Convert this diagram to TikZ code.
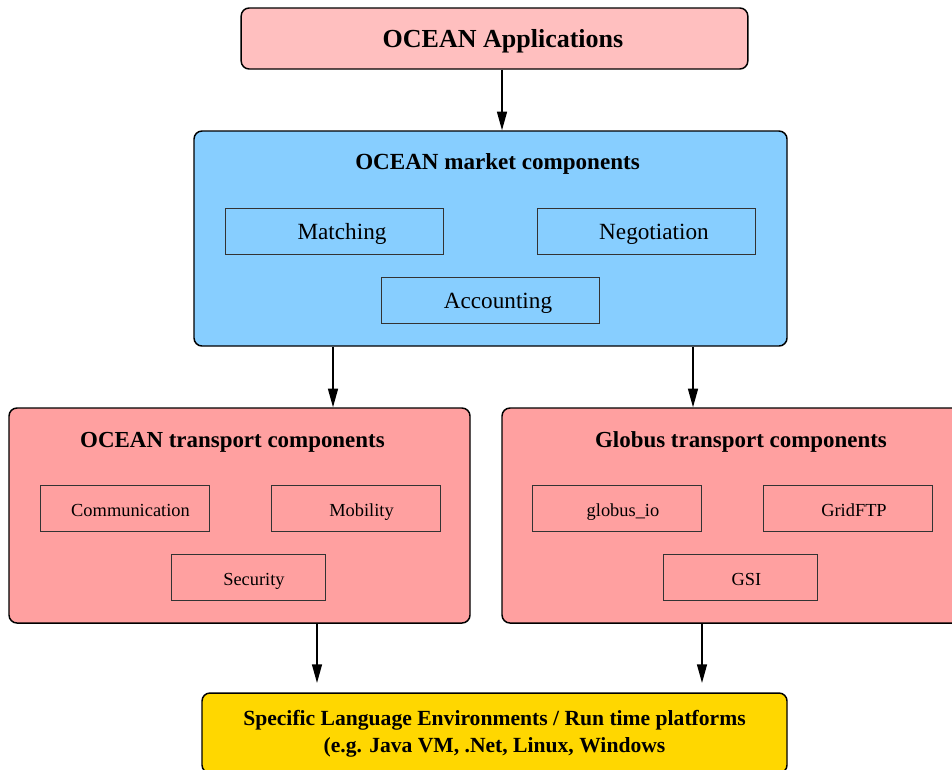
\documentclass[tikz,border=0pt]{standalone}
\usepackage{fontspec}
\setmainfont{Liberation Serif}
\usetikzlibrary{arrows.meta}

\definecolor{apppink}{RGB}{255,191,191}
\definecolor{marketblue}{RGB}{135,206,255}
\definecolor{transpink}{RGB}{255,160,160}
\definecolor{envgold}{RGB}{255,215,0}

\tikzset{
	layer/.style={draw, rounded corners=6pt, line width=1.1pt},
	part/.style={draw=black!80, line width=0.7pt, minimum height=34.5pt, inner sep=0pt, text height=12.6pt, text depth=0pt},
	flow/.style={-{Triangle[length=14pt, width=7.5pt]}, line width=1.1pt}
}

\begin{document}
\begin{tikzpicture}[x=0.75pt, y=-0.75pt]
		\clip (0, 0) rectangle (952, 769);
		\fill [white]	(0, 0) rectangle (952, 769);

		\node [layer, fill=apppink, minimum width=380pt, minimum height=45.75pt]	(apps) at (494.5, 38.5) {};
		\node [font=\fontsize{19.5}{22}\selectfont\bfseries]	(appstitle) at (503, 41) {OCEAN Applications};

		\node [layer, fill=marketblue, minimum width=444.75pt, minimum height=161.25pt]	(market) at (490.5, 238.5) {};
		\node [font=\fontsize{17.3}{20}\selectfont\bfseries]	(markettitle) at (497.5, 164) {OCEAN market components};
		\node [part, minimum width=163.5pt, font=\fontsize{17.4}{20}\selectfont]	(matching) at (334, 231) {\hspace{12pt}Matching};
		\node [part, minimum width=163.5pt, font=\fontsize{17.4}{20}\selectfont]	(negotiation) at (646, 231) {\hspace{12pt}Negotiation};
		\node [part, minimum width=163.5pt, font=\fontsize{17.4}{20}\selectfont]	(accounting) at (490, 300) {\hspace{12pt}Accounting};

		\node [layer, fill=transpink, minimum width=345.75pt, minimum height=161.25pt]	(oceantrans) at (239.5, 515.5) {};
		\node [font=\fontsize{17.2}{20}\selectfont\bfseries]	(oceantitle) at (232.5, 442) {OCEAN transport components};
		\node [part, minimum width=126.75pt, font=\fontsize{13.8}{16}\selectfont]	(communication) at (124.5, 508) {\hspace{9pt}Communication};
		\node [part, minimum width=126.75pt, font=\fontsize{13.8}{16}\selectfont]	(mobility) at (355.5, 508) {\hspace{9pt}Mobility};
		\node [part, minimum width=115.5pt, font=\fontsize{13.8}{16}\selectfont]	(security) at (248, 577) {\hspace{9pt}Security};

		\node [layer, fill=transpink, minimum width=345.75pt, minimum height=161.25pt]	(globustrans) at (732.5, 515.5) {};
		\node [font=\fontsize{17.2}{20}\selectfont\bfseries]	(globustitle) at (741, 442) {Globus transport components};
		\node [part, minimum width=126.75pt, font=\fontsize{13.8}{16}\selectfont]	(globusio) at (617, 508) {\hspace{9pt}globus\_io};
		\node [part, minimum width=126.75pt, font=\fontsize{13.8}{16}\selectfont]	(gridftp) at (848, 508) {\hspace{9pt}GridFTP};
		\node [part, minimum width=115.5pt, font=\fontsize{13.8}{16}\selectfont]	(gsi) at (740.5, 577) {\hspace{9pt}GSI};

		\node [layer, fill=envgold, minimum width=438.75pt, minimum height=60pt]	(envs) at (494.5, 733) {};
		\node [align=center, font=\fontsize{16.2}{20.25}\selectfont\bfseries]	(envtext) at (494.5, 733.5) {Specific Language Environments / Run time platforms\\(e.g. Java VM, .Net, Linux, Windows};

		\draw [flow]	(apps.south -| 502, 0) to (market.north -| 502, 0);
		\draw [flow]	(market.south -| 333, 0) to (oceantrans.north -| 333, 0);
		\draw [flow]	(market.south -| 693, 0) to (globustrans.north -| 693, 0);
		\draw [flow, shorten >=7pt]	(oceantrans.south -| 317, 0) to (envs.north -| 317, 0);
		\draw [flow, shorten >=7pt]	(globustrans.south -| 702, 0) to (envs.north -| 702, 0);
	\end{tikzpicture}
\end{document}
